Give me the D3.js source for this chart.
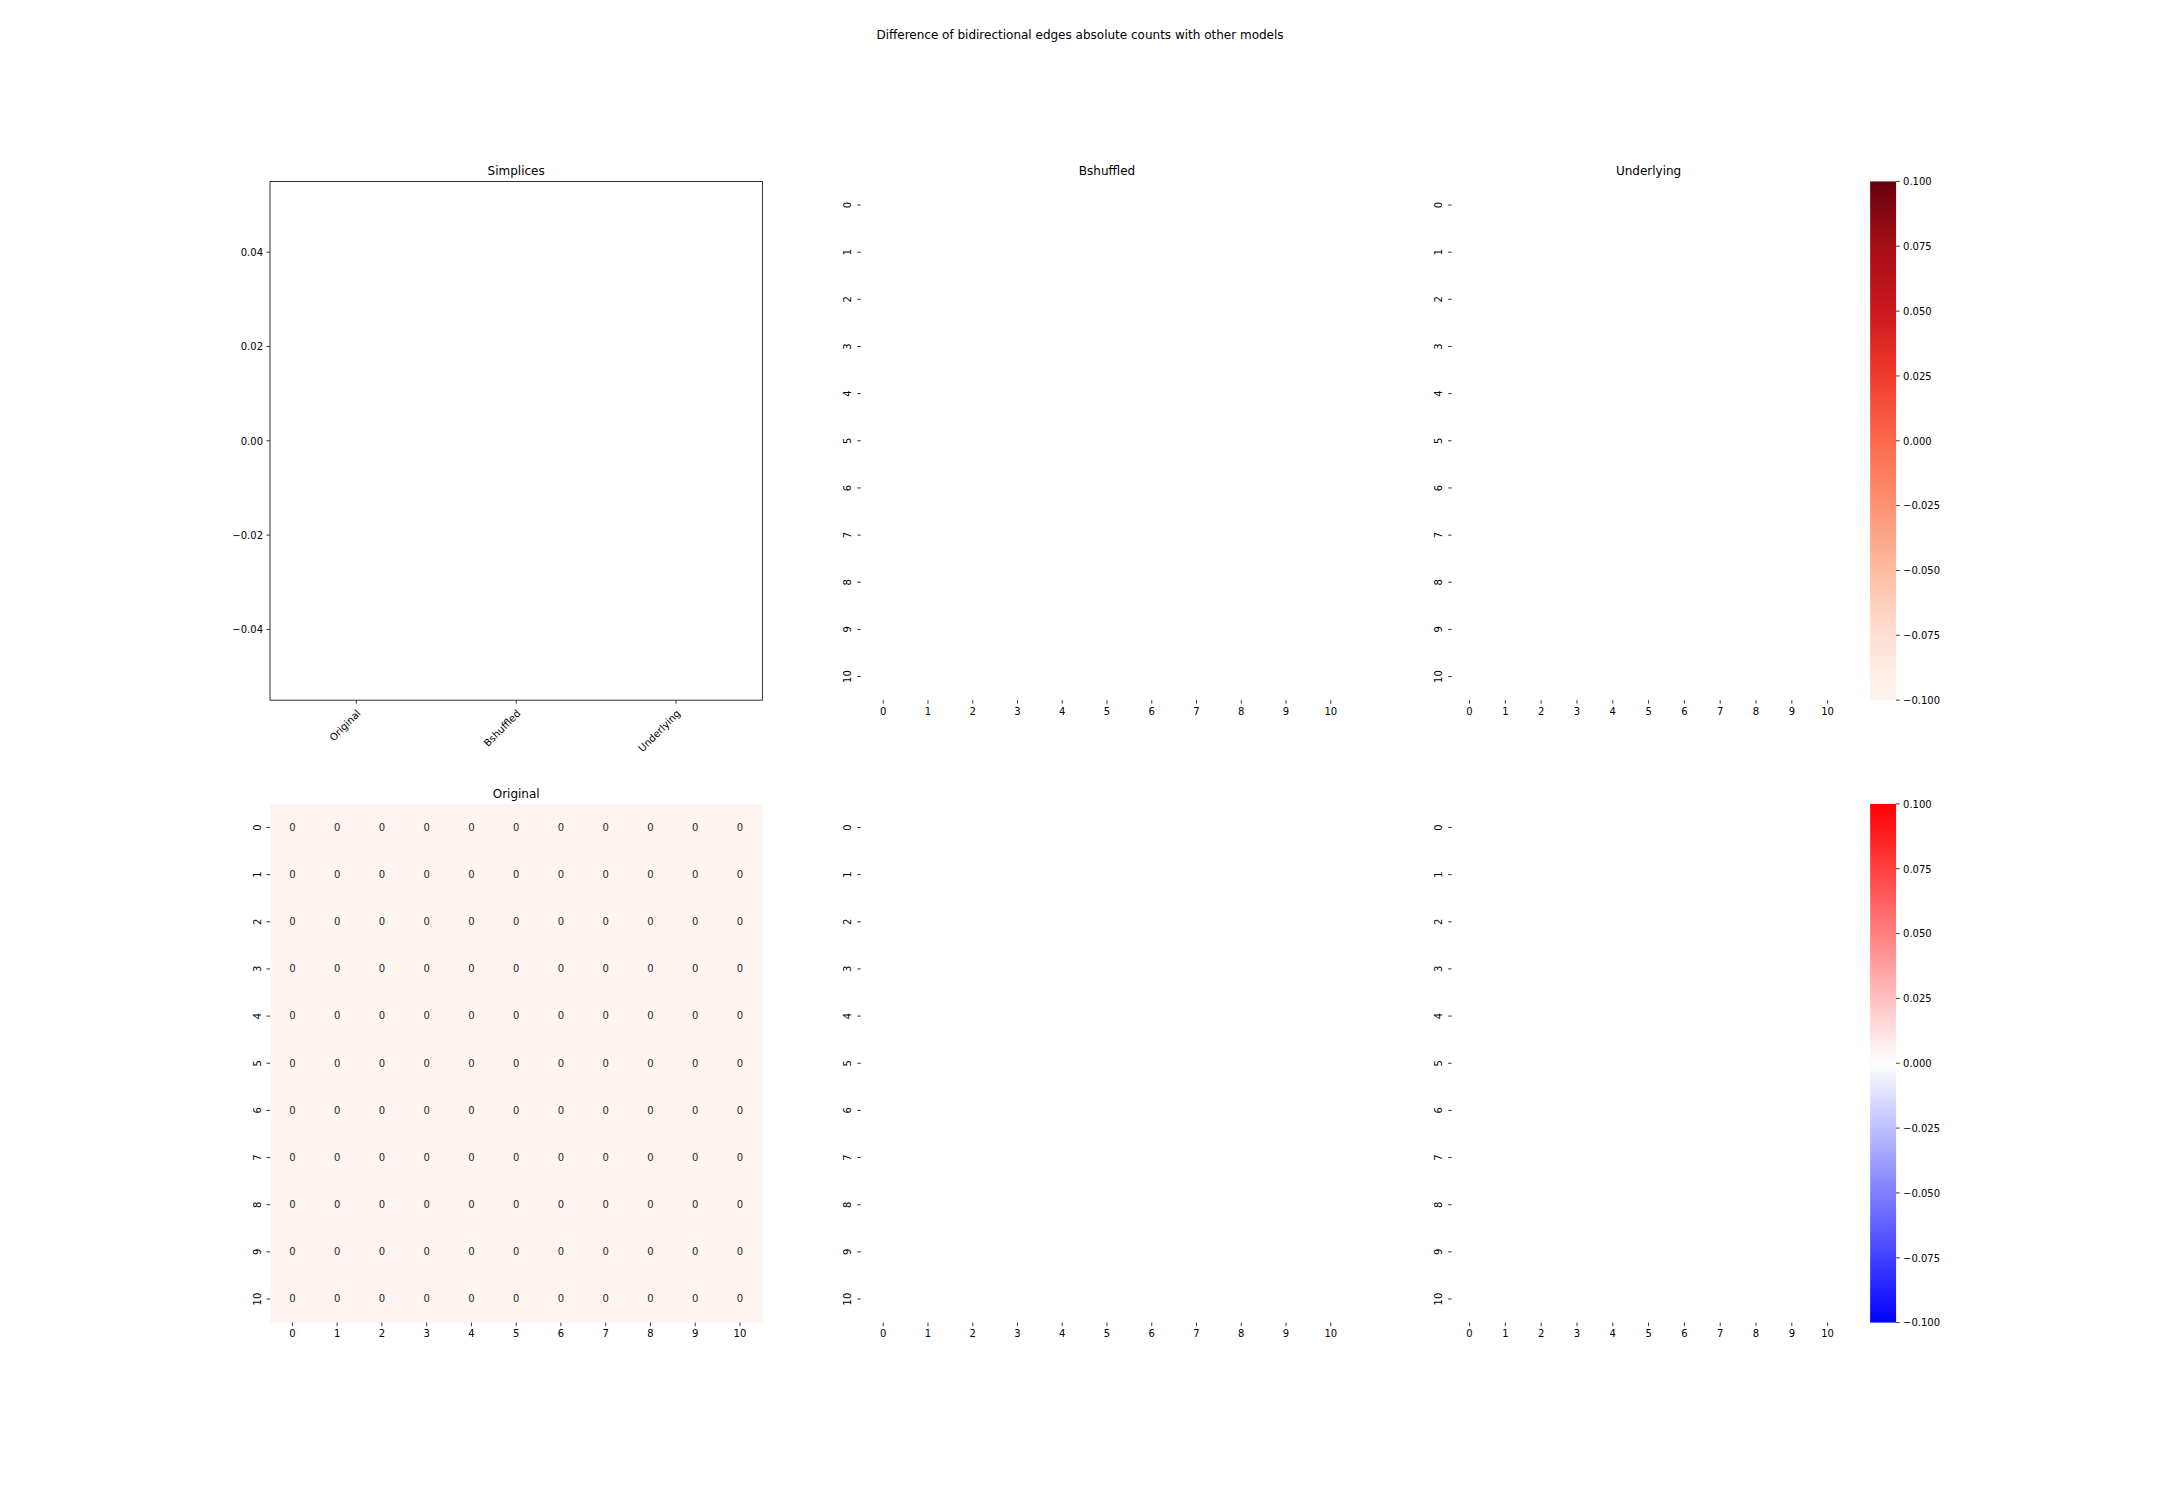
<!DOCTYPE html>
<html>
<head>
<meta charset="utf-8">
<script src="https://cdn.jsdelivr.net/npm/d3@7"></script>
<style>
  html, body { margin: 0; padding: 0; background: #ffffff; }
  svg { display: block; }
  text { font-family: "DejaVu Sans", sans-serif; fill: #000000; }
</style>
</head>
<body>
<script>
// ---------------- DATA ----------------
const suptitleText = "Difference of bidirectional edges absolute counts with other models";
const panelTitles = ["Simplices", "Bshuffled", "Underlying", "Original", "", ""];

const barCategories = ["Original", "Bshuffled", "Underlying"];
const barValues = [0, 0, 0];

const matrixLabels = [0, 1, 2, 3, 4, 5, 6, 7, 8, 9, 10];

const originalMatrix = [
  [0, 0, 0, 0, 0, 0, 0, 0, 0, 0, 0],
  [0, 0, 0, 0, 0, 0, 0, 0, 0, 0, 0],
  [0, 0, 0, 0, 0, 0, 0, 0, 0, 0, 0],
  [0, 0, 0, 0, 0, 0, 0, 0, 0, 0, 0],
  [0, 0, 0, 0, 0, 0, 0, 0, 0, 0, 0],
  [0, 0, 0, 0, 0, 0, 0, 0, 0, 0, 0],
  [0, 0, 0, 0, 0, 0, 0, 0, 0, 0, 0],
  [0, 0, 0, 0, 0, 0, 0, 0, 0, 0, 0],
  [0, 0, 0, 0, 0, 0, 0, 0, 0, 0, 0],
  [0, 0, 0, 0, 0, 0, 0, 0, 0, 0, 0],
  [0, 0, 0, 0, 0, 0, 0, 0, 0, 0, 0]
];
// empty (NaN) matrices: nothing drawn
const bshuffledMatrix = [
  [null, null, null, null, null, null, null, null, null, null, null],
  [null, null, null, null, null, null, null, null, null, null, null],
  [null, null, null, null, null, null, null, null, null, null, null],
  [null, null, null, null, null, null, null, null, null, null, null],
  [null, null, null, null, null, null, null, null, null, null, null],
  [null, null, null, null, null, null, null, null, null, null, null],
  [null, null, null, null, null, null, null, null, null, null, null],
  [null, null, null, null, null, null, null, null, null, null, null],
  [null, null, null, null, null, null, null, null, null, null, null],
  [null, null, null, null, null, null, null, null, null, null, null],
  [null, null, null, null, null, null, null, null, null, null, null]
];
const underlyingMatrix = [
  [null, null, null, null, null, null, null, null, null, null, null],
  [null, null, null, null, null, null, null, null, null, null, null],
  [null, null, null, null, null, null, null, null, null, null, null],
  [null, null, null, null, null, null, null, null, null, null, null],
  [null, null, null, null, null, null, null, null, null, null, null],
  [null, null, null, null, null, null, null, null, null, null, null],
  [null, null, null, null, null, null, null, null, null, null, null],
  [null, null, null, null, null, null, null, null, null, null, null],
  [null, null, null, null, null, null, null, null, null, null, null],
  [null, null, null, null, null, null, null, null, null, null, null],
  [null, null, null, null, null, null, null, null, null, null, null]
];
const diffBshuffledMatrix = [
  [null, null, null, null, null, null, null, null, null, null, null],
  [null, null, null, null, null, null, null, null, null, null, null],
  [null, null, null, null, null, null, null, null, null, null, null],
  [null, null, null, null, null, null, null, null, null, null, null],
  [null, null, null, null, null, null, null, null, null, null, null],
  [null, null, null, null, null, null, null, null, null, null, null],
  [null, null, null, null, null, null, null, null, null, null, null],
  [null, null, null, null, null, null, null, null, null, null, null],
  [null, null, null, null, null, null, null, null, null, null, null],
  [null, null, null, null, null, null, null, null, null, null, null],
  [null, null, null, null, null, null, null, null, null, null, null]
];
const diffUnderlyingMatrix = [
  [null, null, null, null, null, null, null, null, null, null, null],
  [null, null, null, null, null, null, null, null, null, null, null],
  [null, null, null, null, null, null, null, null, null, null, null],
  [null, null, null, null, null, null, null, null, null, null, null],
  [null, null, null, null, null, null, null, null, null, null, null],
  [null, null, null, null, null, null, null, null, null, null, null],
  [null, null, null, null, null, null, null, null, null, null, null],
  [null, null, null, null, null, null, null, null, null, null, null],
  [null, null, null, null, null, null, null, null, null, null, null],
  [null, null, null, null, null, null, null, null, null, null, null],
  [null, null, null, null, null, null, null, null, null, null, null]
];

const cbarDomain = [-0.1, 0.1];
const cbarTicks = [-0.1, -0.075, -0.05, -0.025, 0, 0.025, 0.05, 0.075, 0.1];

const redsColors = ["#fff5f0", "#fee0d2", "#fcbba1", "#fc9272", "#fb6a4a", "#ef3b2c", "#cb181d", "#a50f15", "#67000d"];
const bwrColors = ["#0000ff", "#ffffff", "#ff0000"];

// ---------------- LAYOUT ----------------
const W = 2160, H = 1512;
const figLeft = 270, figRight = 1944, figTop = 181.44, figBottom = 1322.6;
const colW = (figRight - figLeft) / 3.4, colGap = 0.2 * colW;
const rowH = (figBottom - figTop) / 2.2, rowGap = 0.2 * rowH;
const colX = i => figLeft + i * (colW + colGap);
const rowY = i => figTop + i * (rowH + rowGap);

const FS = 10, TITLE_FS = 12;
const TICK = 3.5, PAD = 3.5;
const ASC = 7.6, DESC = 2.36;

const redsInterp = d3.piecewise(d3.interpolateRgb, redsColors);
const bwrInterp = d3.piecewise(d3.interpolateRgb, bwrColors);

const svg = d3.select("body").append("svg")
  .attr("width", W).attr("height", H)
  .attr("viewBox", `0 0 ${W} ${H}`);
svg.append("rect").attr("width", W).attr("height", H).attr("fill", "#ffffff");

// suptitle
svg.append("text")
  .attr("x", W / 2).attr("y", 0.02 * H + 12 * 0.76)
  .attr("text-anchor", "middle")
  .attr("font-size", TITLE_FS)
  .text(suptitleText);

function panelTitle(cx, top, label) {
  if (!label) return;
  svg.append("text")
    .attr("x", cx).attr("y", top - 6)
    .attr("text-anchor", "middle")
    .attr("font-size", TITLE_FS)
    .text(label);
}

// ---------------- BAR PANEL ----------------
function barPanel(x0, y0, w, h, title) {
  const g = svg.append("g");
  const n = barCategories.length;
  const barW = 0.8;
  const lo = -barW / 2, hi = n - 1 + barW / 2, m = 0.05 * (hi - lo);
  const x = d3.scaleLinear().domain([lo - m, hi + m]).range([x0, x0 + w]);
  const y = d3.scaleLinear().domain([-0.055, 0.055]).range([y0 + h, y0]);

  // bars (zero height)
  g.selectAll("rect.bar").data(barValues).join("rect")
    .attr("class", "bar")
    .attr("x", (d, i) => x(i - barW / 2))
    .attr("width", (d, i) => x(i + barW / 2) - x(i - barW / 2))
    .attr("y", d => Math.min(y(d), y(0)))
    .attr("height", d => Math.abs(y(d) - y(0)))
    .attr("fill", "#1f77b4");

  // y axis
  const yt = y.ticks(5);
  const fmt = d3.format(".2f");
  yt.forEach(t => {
    g.append("line").attr("x1", x0 - TICK).attr("x2", x0)
      .attr("y1", y(t)).attr("y2", y(t))
      .attr("stroke", "#000").attr("stroke-width", 0.8);
    g.append("text").attr("x", x0 - TICK - PAD).attr("y", y(t) + ASC / 2)
      .attr("text-anchor", "end").attr("font-size", FS)
      .text(fmt(t));
  });
  // x axis
  barCategories.forEach((c, i) => {
    g.append("line").attr("x1", x(i)).attr("x2", x(i))
      .attr("y1", y0 + h).attr("y2", y0 + h + TICK)
      .attr("stroke", "#000").attr("stroke-width", 0.8);
    const ox = x(i) + 5, oy = y0 + h + 13.9;
    g.append("text")
      .attr("transform", `translate(${ox},${oy}) rotate(-45)`)
      .attr("text-anchor", "end").attr("font-size", FS)
      .text(c);
  });
  // spines
  g.append("rect").attr("x", x0).attr("y", y0).attr("width", w).attr("height", h)
    .attr("fill", "none").attr("stroke", "#000").attr("stroke-width", 0.8);

  panelTitle(x0 + w / 2, y0, title);
}

// ---------------- HEATMAP PANEL ----------------
function heatPanel(x0, y0, w0, h, title, matrix, interp, withCbar) {
  const g = svg.append("g");
  const w = withCbar ? w0 * 0.8 : w0;
  const xb = d3.scaleBand().domain(matrixLabels).range([x0, x0 + w]);
  const yb = d3.scaleBand().domain(matrixLabels).range([y0, y0 + h]);

  const vals = matrix.flat().filter(v => v !== null && !isNaN(v));
  let color = null;
  if (vals.length) {
    const ext = d3.extent(vals);
    const norm = ext[0] === ext[1]
      ? (() => 0)
      : d3.scaleLinear().domain(ext).range([0, 1]).clamp(true);
    color = v => interp(norm(v));
  }

  const cells = [];
  matrix.forEach((row, r) => row.forEach((v, c) => {
    if (v !== null && !isNaN(v)) cells.push({ r: matrixLabels[r], c: matrixLabels[c], v });
  }));

  g.selectAll("rect.cell").data(cells).join("rect")
    .attr("class", "cell")
    .attr("x", d => xb(d.c)).attr("y", d => yb(d.r))
    .attr("width", xb.bandwidth() + 0.5).attr("height", yb.bandwidth() + 0.5)
    .attr("fill", d => color(d.v));

  g.selectAll("text.annot").data(cells).join("text")
    .attr("class", "annot")
    .attr("x", d => xb(d.c) + xb.bandwidth() / 2)
    .attr("y", d => yb(d.r) + yb.bandwidth() / 2 + 3.4)
    .attr("text-anchor", "middle").attr("font-size", FS)
    .style("fill", "#262626")
    .text(d => d3.format("d")(d.v));

  // x ticks
  matrixLabels.forEach(l => {
    const cx = xb(l) + xb.bandwidth() / 2;
    g.append("line").attr("x1", cx).attr("x2", cx)
      .attr("y1", y0 + h).attr("y2", y0 + h + TICK)
      .attr("stroke", "#000").attr("stroke-width", 0.8);
    g.append("text").attr("x", cx).attr("y", y0 + h + TICK + PAD + ASC)
      .attr("text-anchor", "middle").attr("font-size", FS)
      .text(l);
  });
  // y ticks (rotated labels)
  matrixLabels.forEach(l => {
    const cy = yb(l) + yb.bandwidth() / 2;
    g.append("line").attr("x1", x0 - TICK).attr("x2", x0)
      .attr("y1", cy).attr("y2", cy)
      .attr("stroke", "#000").attr("stroke-width", 0.8);
    g.append("text")
      .attr("transform", `translate(${x0 - TICK - PAD - DESC},${cy}) rotate(-90)`)
      .attr("text-anchor", "middle").attr("font-size", FS)
      .text(l);
  });

  panelTitle(x0 + w / 2, y0, title);

  if (withCbar) {
    const cx0 = x0 + 0.85 * w0;
    const cw = h / 20;
    const cy = d3.scaleLinear().domain(cbarDomain).range([y0 + h, y0]);
    const gid = "grad" + Math.round(x0) + "_" + Math.round(y0);
    const grad = svg.append("defs").append("linearGradient")
      .attr("id", gid).attr("x1", 0).attr("y1", 1).attr("x2", 0).attr("y2", 0);
    d3.range(0, 1.0001, 1 / 64).forEach(t => {
      grad.append("stop").attr("offset", t).attr("stop-color", interp(t));
    });
    g.append("rect").attr("x", cx0).attr("y", y0).attr("width", cw).attr("height", h)
      .attr("fill", `url(#${gid})`);
    const fmt = d3.format(".3f");
    cbarTicks.forEach(t => {
      g.append("line").attr("x1", cx0 + cw).attr("x2", cx0 + cw + TICK)
        .attr("y1", cy(t)).attr("y2", cy(t))
        .attr("stroke", "#000").attr("stroke-width", 0.8);
      g.append("text").attr("x", cx0 + cw + TICK + PAD).attr("y", cy(t) + ASC / 2)
        .attr("text-anchor", "start").attr("font-size", FS)
        .text(fmt(t));
    });
  }
}

barPanel(colX(0), rowY(0), colW, rowH, panelTitles[0]);
heatPanel(colX(1), rowY(0), colW, rowH, panelTitles[1], bshuffledMatrix, redsInterp, false);
heatPanel(colX(2), rowY(0), colW, rowH, panelTitles[2], underlyingMatrix, redsInterp, true);
heatPanel(colX(0), rowY(1), colW, rowH, panelTitles[3], originalMatrix, redsInterp, false);
heatPanel(colX(1), rowY(1), colW, rowH, panelTitles[4], diffBshuffledMatrix, bwrInterp, false);
heatPanel(colX(2), rowY(1), colW, rowH, panelTitles[5], diffUnderlyingMatrix, bwrInterp, true);
</script>
</body>
</html>
